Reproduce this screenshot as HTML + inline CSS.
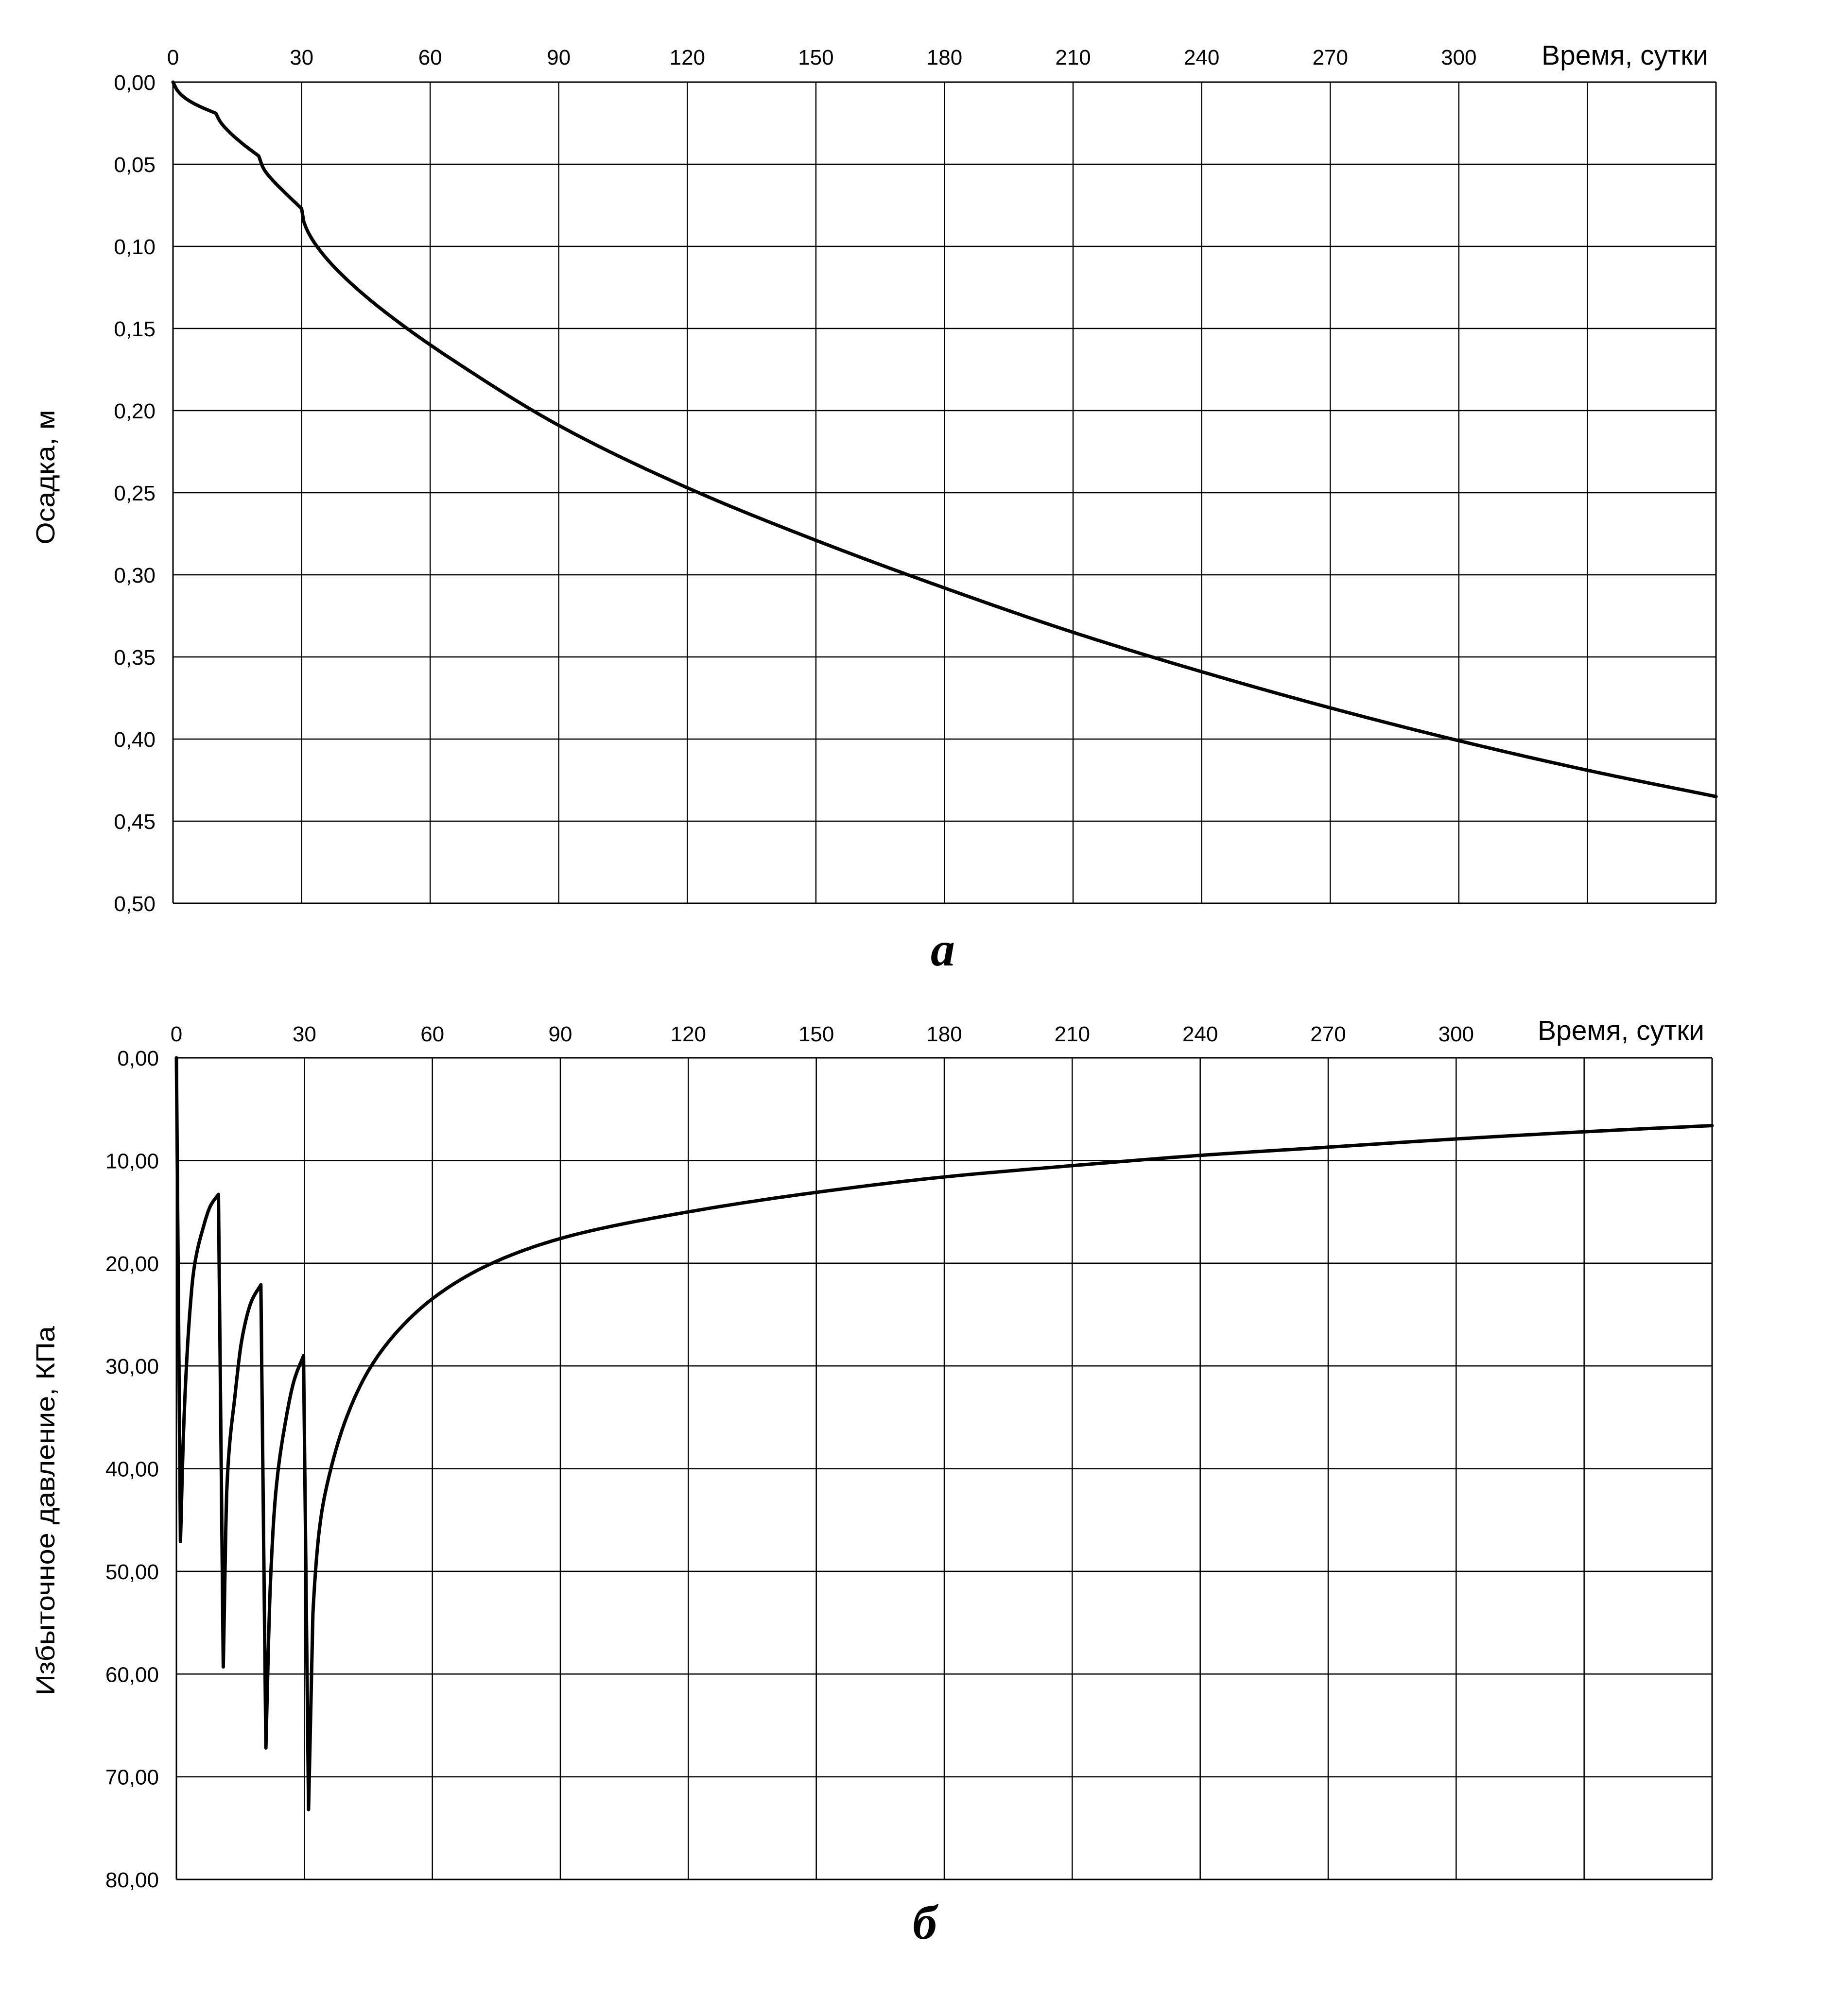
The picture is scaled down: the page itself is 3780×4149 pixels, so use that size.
<!DOCTYPE html>
<html><head><meta charset="utf-8"><style>
html,body{margin:0;padding:0;background:#fff;}
svg{display:block;}
text{font-family:"Liberation Sans",sans-serif;fill:#000;}
</style></head><body>
<svg id="s" width="3780" height="4149" viewBox="0 0 3780 4149" xmlns="http://www.w3.org/2000/svg">
<rect width="3780" height="4149" fill="#fff"/>
<g id="g"></g>
<text x="1940" y="1987" text-anchor="middle" style="font-family:'Liberation Serif',serif;font-weight:bold;font-style:italic;font-size:100px">а</text>
<text x="1903" y="3990" text-anchor="middle" style="font-family:'Liberation Serif',serif;font-weight:bold;font-style:italic;font-size:100px">б</text>
<text transform="translate(112,982) rotate(-90)" text-anchor="middle" font-size="54" textLength="277" lengthAdjust="spacingAndGlyphs">Осадка, м</text>
<text transform="translate(112,3109) rotate(-90)" text-anchor="middle" font-size="54" textLength="760" lengthAdjust="spacingAndGlyphs">Избыточное давление, КПа</text>
</svg>
<script>
var NS="http://www.w3.org/2000/svg",G=document.getElementById("g");
function el(t,a,txt){var e=document.createElementNS(NS,t);for(var k in a)e.setAttribute(k,a[k]);if(txt!=null)e.textContent=txt;G.appendChild(e);return e;}
function mono(p,dens){
  dens=dens||4;
  var n=p.length,xs=p.map(function(q){return q[0]}),ys=p.map(function(q){return q[1]});
  var d=[],m=[];
  for(var i=0;i<n-1;i++)d.push((ys[i+1]-ys[i])/(xs[i+1]-xs[i]));
  m[0]=d[0];m[n-1]=d[n-2];
  for(i=1;i<n-1;i++){if(d[i-1]*d[i]<=0)m[i]=0;else{var w1=2*(xs[i+1]-xs[i])+(xs[i]-xs[i-1]),w2=(xs[i+1]-xs[i])+2*(xs[i]-xs[i-1]);m[i]=(w1+w2)/(w1/d[i-1]+w2/d[i]);}}
  var out=[];
  for(i=0;i<n-1;i++){var h=xs[i+1]-xs[i],N=Math.max(8,Math.ceil(h*dens));
    for(var k=0;k<N;k++){var t=k/N,t2=t*t,t3=t2*t;
      out.push([xs[i]+t*h,(2*t3-3*t2+1)*ys[i]+(t3-2*t2+t)*h*m[i]+(-2*t3+3*t2)*ys[i+1]+(t3-t2)*h*m[i+1]]);}}
  out.push([xs[n-1],ys[n-1]]);return out;
}
function chart(L,T,R,B,ny,ylab,xlabBase,titleBase,segs,ymax){
  var dx=(R-L)/12,dy=(B-T)/ny;
  for(var i=0;i<=12;i++){var x=L+i*dx;el("line",{x1:x,y1:T,x2:x,y2:B,stroke:"#000","stroke-width":i==0||i==12?3:2.5});
    if(i<=10)el("text",{x:x,y:xlabBase,"text-anchor":"middle","font-size":44},String(i*30));}
  for(var j=0;j<=ny;j++){var y=T+j*dy;el("line",{x1:L,y1:y,x2:R,y2:y,stroke:"#000","stroke-width":j==0||j==ny?3:2.5});
    el("text",{x:L-36,y:y+16,"text-anchor":"end","font-size":44},ylab(j));}
  el("text",{x:R-16,y:titleBase,"text-anchor":"end","font-size":57},"Время, сутки");
  function X(t){return L+t*(R-L)/360;}function Y(v){return T+v*(B-T)/ymax;}
  var d="";
  segs.forEach(function(p,si){
    var P=p.raw?p.pts:(p.length>2?mono(p):p);
    P.forEach(function(q,k){d+=(si==0&&k==0?"M":" L")+X(q[0]).toFixed(1)+" "+Y(q[1]).toFixed(1);});
  });
  el("path",{d:d,fill:"none",stroke:"#000","stroke-width":7,"stroke-linejoin":"round","stroke-linecap":"round"});
}
function f(s){return 0.077+0.0106*Math.sqrt(s)+0.00083*s;}
var sa=[];
for(var s=0;s<30;s+=0.5){sa.push([30+s,f(s)]);}
var tail=mono([[60,f(30)],[63,f(33)],[90,0.209],[120,0.247],[150,0.279],[180,0.308],[210,0.335],[240,0.359],[270,0.381],[300,0.401],[330,0.419],[360,0.435]]);
sa=sa.concat(tail);
// pressure after day 31: monotone in log-time space
var pb=[[32.0,54.1],[33.7,45.3],[36.4,39.7],[39.9,35.0],[45.1,30.4],[53,26.1],[60.2,23.4],[74,20.0],[90,17.6],[120,15.0],[150,13.1],[180,11.6],[210,10.5],[240,9.5],[270,8.7],[300,7.9],[330,7.2],[360,6.6]];
var lp=mono(pb.map(function(q){return [Math.log(q[0]-30.6),q[1]];}),60).map(function(q){return [Math.exp(q[0])+30.6,q[1]];});
chart(356,169,3531,1859,10,function(j){return (j*0.05).toFixed(2).replace(".",",");},133,133,[
 [[0,0],[1,0.005],[3,0.010],[6,0.0145],[10,0.019]],
 [[10,0.019],[11,0.024],[13,0.030],[16,0.037],[20,0.045]],
 [[20,0.045],[21,0.052],[23,0.059],[26,0.067],[30,0.077]],
 {raw:true,pts:sa}
],0.5);
chart(363,2177,3523,3868,8,function(j){return (j*10).toFixed(2).replace(".",",");},2143,2140,[
 [[0,0],[0.95,47.1]],
 [[0.95,47.1],[1.7,36.1],[2.8,26.8],[4.1,20.6],[6.3,16.5],[8.0,14.4],[9.85,13.3]],
 [[10.98,59.3],[11.9,41.2],[13.7,33.0],[15.4,27.3],[17.6,23.7],[19.8,22.1]],
 [[20.97,67.2],[22.0,51.5],[23.3,42.3],[25.5,35.6],[27.6,31.4],[29.8,29.0]],
 [[30.98,73.2]],
 {raw:true,pts:lp}
],80);
</script>
</body></html>
